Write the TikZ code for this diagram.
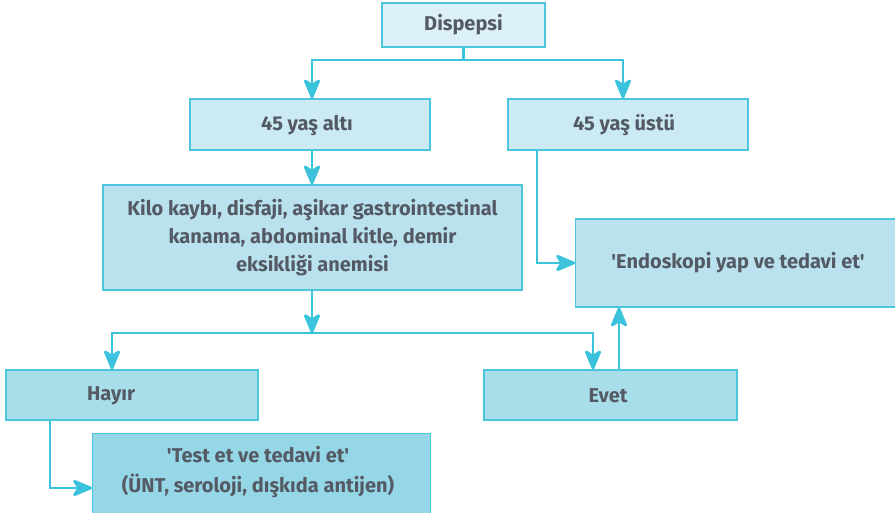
\documentclass[tikz,border=0pt]{standalone}
\usepackage{fontspec}
\setmainfont{Fira Sans}[Ligatures=TeXOff]
\usetikzlibrary{arrows.meta}
\definecolor{edge}{HTML}{4CC6DE}
\definecolor{arr}{HTML}{3CC3DC}
\definecolor{txt}{HTML}{545A64}
\definecolor{f1}{HTML}{DCF0F7}
\definecolor{f2}{HTML}{CBEAF3}
\definecolor{f3}{HTML}{B9E2EE}
\definecolor{f4}{HTML}{A8DDEA}
\definecolor{f5}{HTML}{95D6E7}
\tikzset{
  lbl/.style={text=txt, font=\fontsize{20}{28}\selectfont\bfseries, align=center},
  box/.style={draw=edge, line width=1.3pt, rectangle, inner sep=0pt, lbl},
  conn/.style={draw=arr, line width=2.8pt,
    -{Stealth[length=23pt, width=19pt, inset=6pt, round=false]}},
  plain/.style={draw=arr, line width=2.8pt}
}
\begin{document}
\begin{tikzpicture}[x=1pt,y=-1pt]
\useasboundingbox (0,0) rectangle (895,513);
\begin{scope}
\clip (0,0) rectangle (895,513);
\node[box, fill=f1, minimum width=163pt, minimum height=44pt] (dis) at (463.5,25) {Dispepsi};
\node[box, fill=f2, minimum width=240pt, minimum height=51pt] (alt) at (310,124.5) {};
\node[lbl] (altt) at (307,125.5) {45 yaş altı};
\node[box, fill=f2, minimum width=240pt, minimum height=51pt] (ust) at (628,124.5) {};
\node[lbl] (ustt) at (624,125.5) {45 yaş üstü};
\node[box, fill=f3, minimum width=419pt, minimum height=105pt] (big) at (312.5,237.5)
  {Kilo kaybı, disfaji, aşikar gastrointestinal\\kanama, abdominal kitle, demir\\eksikliği anemisi};
\node[box, fill=f3, minimum width=325pt, minimum height=88pt, anchor=west] (endo) at (575,263) {};
\node[lbl] (endot) at (738,263) {'Endoskopi yap ve tedavi et'};
\node[box, fill=f4, minimum width=252pt, minimum height=50pt] (hay) at (132,395) {};
\node[lbl] (hayt) at (111,396) {Hayır};
\node[box, fill=f4, minimum width=253pt, minimum height=50pt] (evet) at (610.5,395) {};
\node[lbl] (evett) at (608,396) {Evet};
\node[box, fill=f5, minimum width=338pt, minimum height=84pt, anchor=north west] (test) at (92,433) {};
\node[lbl, font=\fontsize{20}{30}\selectfont\bfseries] (testt) at (258,472)
  {'Test et ve tedavi et'\\(ÜNT, seroloji, dışkıda antijen)};
\end{scope}
\coordinate (j1) at (463.5,60);
\coordinate (j2) at (312,333);
\draw[plain] (dis.south) -- (j1);
\draw[conn] (j1) -| (alt.north -| 312,0);
\draw[conn] (j1) -| (ust.north -| 623,0);
\draw[conn] (alt.south -| 312,0) -- (big.north -| 312,0);
\draw[conn] (ust.south -| 537,0) |- (endo.west);
\draw[conn] (big.south -| 312,0) -- (j2);
\draw[conn] (j2) -| (hay.north -| 112,0);
\draw[conn] (j2) -| (evet.north -| 593,0);
\draw[conn] (evet.north -| 619,0) -- (endo.south -| 619,0);
\draw[conn] (hay.south -| 50,0) |- (test.west |- 0,488);
\end{tikzpicture}
\end{document}
